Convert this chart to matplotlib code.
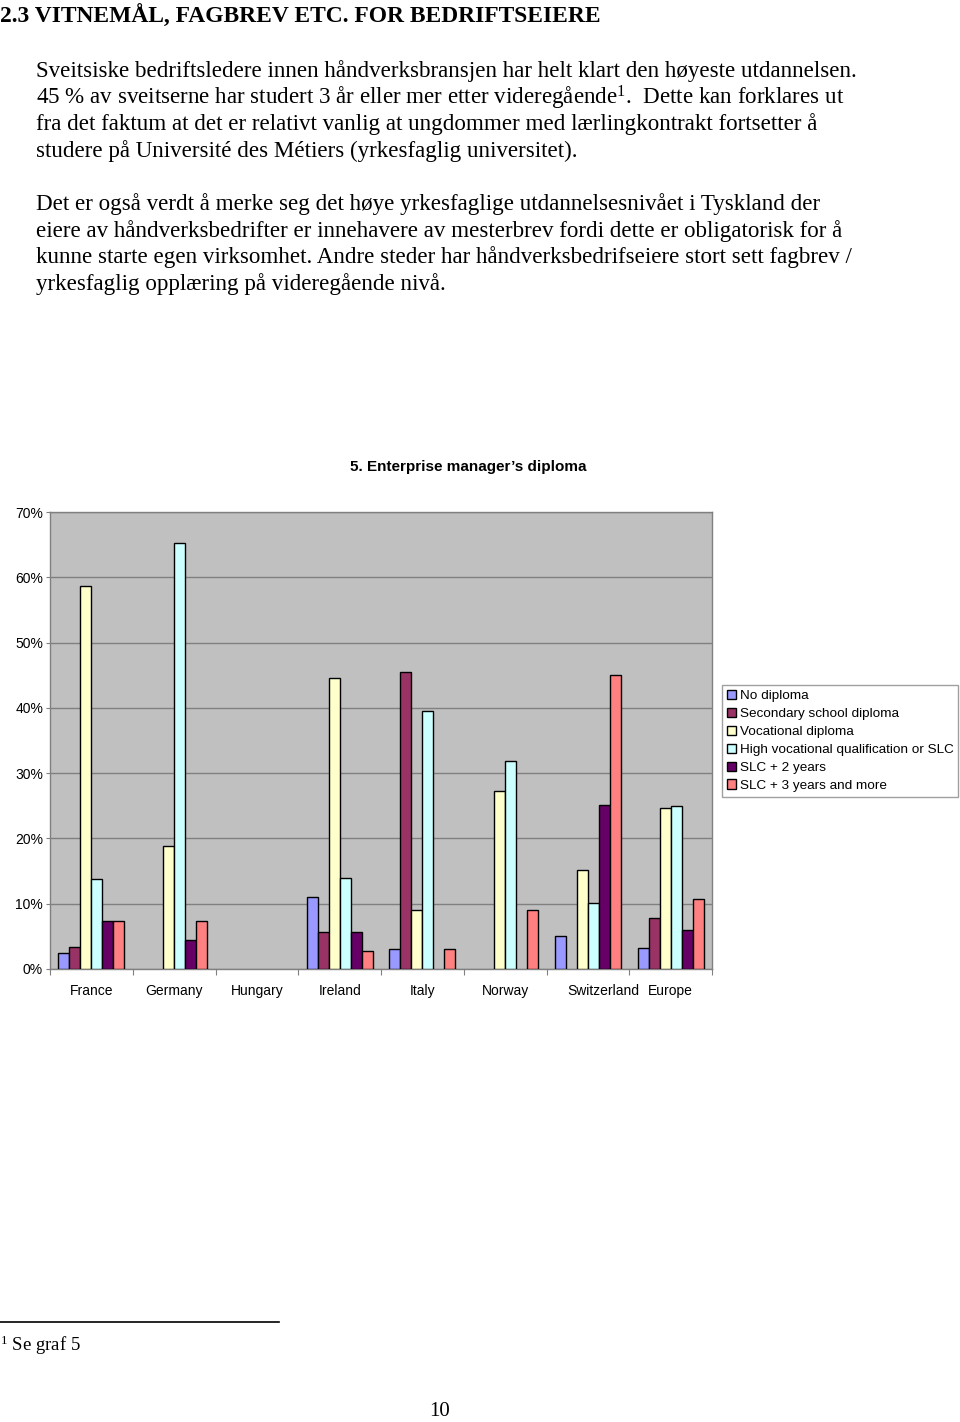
import matplotlib
matplotlib.use("Agg")
import matplotlib.pyplot as plt
import numpy as np
from matplotlib.transforms import ScaledTranslation

plt.rcParams['mathtext.fontset'] = 'custom'
plt.rcParams['mathtext.rm'] = 'Liberation Serif'
plt.rcParams['mathtext.default'] = 'regular'

countries = ["France", "Germany", "Hungary", "Ireland", "Italy", "Norway", "Switzerland", "Europe"]
series_names = ["No diploma", "Secondary school diploma", "Vocational diploma",
                "High vocational qualification or SLC", "SLC + 2 years", "SLC + 3 years and more"]
no_diploma = [2.4, 0, 0, 11.1, 3.1, 0, 5.1, 3.2]
secondary = [3.3, 0, 0, 5.6, 45.5, 0, 0, 7.8]
vocational = [58.6, 18.9, 0, 44.5, 9.1, 27.3, 15.1, 24.7]
high_voc = [13.8, 65.3, 0, 13.9, 39.5, 31.8, 10.1, 24.9]
slc2 = [7.3, 4.4, 0, 5.6, 0, 0, 25.1, 6.0]
slc3 = [7.3, 7.3, 0, 2.8, 3.1, 9.1, 45.1, 10.7]
colors = ["#9999FF", "#993366", "#FFFFCC", "#CCFFFF", "#660066", "#FF8080"]
ytick_labels = ["0%", "10%", "20%", "30%", "40%", "50%", "60%", "70%"]

W, H = 960, 1422
fig = plt.figure(figsize=(W / 100, H / 100), dpi=100)

def fy(px):
    return 1 - px / H

serif = "Liberation Serif"
# Page text
fig.text(0 / W, fy(16), "2.3 VITNEMÅL, FAGBREV ETC. FOR BEDRIFTSEIERE", family=serif,
         fontsize=16.9, fontweight="bold", va="center", ha="left")
body1 = ["Sveitsiske bedriftsledere innen håndverksbransjen har helt klart den høyeste utdannelsen.",
         "45 % av sveitserne har studert 3 år eller mer etter videregående$^{1}$.  Dette kan forklares ut",
         "fra det faktum at det er relativt vanlig at ungdommer med lærlingkontrakt fortsetter å",
         "studere på Université des Métiers (yrkesfaglig universitet)."]
body2 = ["Det er også verdt å merke seg det høye yrkesfaglige utdannelsesnivået i Tyskland der",
         "eiere av håndverksbedrifter er innehavere av mesterbrev fordi dette er obligatorisk for å",
         "kunne starte egen virksomhet. Andre steder har håndverksbedrifseiere stort sett fagbrev /",
         "yrkesfaglig opplæring på videregående nivå."]
for i, line in enumerate(body1):
    fig.text(36 / W, fy(71 + i * 26.6), line, family=serif, fontsize=16.6, va="center", ha="left")
for i, line in enumerate(body2):
    fig.text(36 / W, fy(204 + i * 26.6), line, family=serif, fontsize=16.6, va="center", ha="left")

# footnote
fig.add_artist(plt.Line2D([0, 279 / W], [fy(1322), fy(1322)], color="black", lw=1.2))
fig.text(0 / W, fy(1345), "$^{1}$ Se graf 5", family=serif, fontsize=13.5, va="center", ha="left")
fig.text(440 / W, fy(1412), "10", family=serif, fontsize=15, va="center", ha="center")

# Chart
ax = fig.add_axes([50 / W, fy(969), 662 / W, (969 - 512) / H])
ax.set_facecolor("#C0C0C0")
series = [no_diploma, secondary, vocational, high_voc, slc2, slc3]
x = np.arange(len(countries))
bw = 0.8 / 6
for k, (vals, col, name) in enumerate(zip(series, colors, series_names)):
    bars = ax.bar(x - 0.4 + bw * (k + 0.5), vals, width=bw, color=col, edgecolor="black",
                  linewidth=1.0, label=name, zorder=3)
    for b, v in zip(bars, vals):
        if v == 0:
            b.set_visible(False)

ax.set_xlim(-0.5, len(countries) - 0.5)
ax.set_ylim(0, 70)
ax.set_yticks(np.arange(0, 71, 10))
ax.set_yticklabels(ytick_labels, family="Liberation Sans", fontsize=10)
ax.yaxis.grid(True, color="#808080", lw=1.0, zorder=1)
ax.set_xticks(np.arange(-0.5, len(countries) - 0.5 + 0.01, 1))
ax.set_xticklabels([])
ax.set_xticks(x, minor=True)
ax.set_xticklabels(countries, minor=True, family="Liberation Sans", fontsize=10)
ax.tick_params(axis="x", which="minor", length=0, pad=11)
ax.tick_params(axis="x", which="major", length=4, color="#808080", direction="out")
ax.tick_params(axis="y", length=3, color="#808080", pad=2, direction="out")
for s in ["top", "right", "left", "bottom"]:
    ax.spines[s].set_color("#808080")
    ax.spines[s].set_linewidth(1.0)

# Excel nudged the long "Switzerland" label to the right
for lbl in ax.get_xticklabels(minor=True):
    if lbl.get_text() == "Switzerland":
        lbl.set_transform(lbl.get_transform() + ScaledTranslation(15 / 100, 0, fig.dpi_scale_trans))

fig.text(468 / W, fy(467), "5. Enterprise manager’s diploma", family="Liberation Sans",
         fontsize=11, fontweight="bold", ha="center", va="center")

leg = fig.legend(loc="upper left", bbox_to_anchor=(722 / W, fy(685)),
                 prop={"family": "Liberation Sans", "size": 9.7},
                 handlelength=0.7, handleheight=0.7, handletextpad=0.25,
                 labelspacing=0.41, borderpad=0.35, borderaxespad=0,
                 fancybox=False, framealpha=1, edgecolor="#A0A0A0")
leg.get_frame().set_linewidth(1.0)

fig.savefig("out.png", dpi=100)
